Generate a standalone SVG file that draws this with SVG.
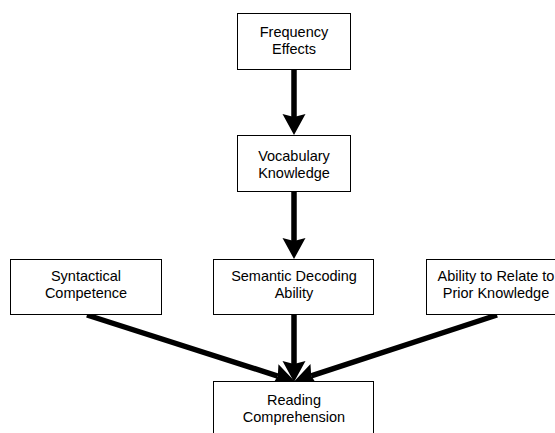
<svg xmlns="http://www.w3.org/2000/svg" width="555" height="433" viewBox="0 0 555 433">
  <style>
    .box { fill: #ffffff; stroke: #000000; stroke-width: 1; }
    .lbl { font-family: "Liberation Sans", Arial, sans-serif; font-size: 14.5px; fill: #000000; text-anchor: middle; }
    .edge { stroke: #000000; stroke-width: 5.5; fill: none; }
  </style>
  <defs>
    <marker id="arrow" markerUnits="userSpaceOnUse" markerWidth="24" markerHeight="24" refX="3" refY="11.5" orient="auto">
      <path d="M0,0 L21,11.5 L0,23 L3,11.5 z" fill="#000000"/>
    </marker>
  </defs>
  <rect width="555" height="433" fill="#ffffff"/>
  <g id="connectors">
    <line class="edge" x1="294" y1="69" x2="294" y2="117" marker-end="url(#arrow)"/>
    <line class="edge" x1="294" y1="192" x2="294" y2="241" marker-end="url(#arrow)"/>
    <line class="edge" x1="294" y1="315" x2="294" y2="364" marker-end="url(#arrow)"/>
    <line class="edge" x1="87" y1="315" x2="277.8" y2="376.1" marker-end="url(#arrow)"/>
    <line class="edge" x1="497" y1="315" x2="311.2" y2="375.8" marker-end="url(#arrow)"/>
  </g>
  <g id="frequency">
    <rect class="box" x="237.5" y="13.5" width="113" height="56"/>
    <text class="lbl" x="294" y="37">Frequency</text>
    <text class="lbl" x="294" y="54">Effects</text>
  </g>
  <g id="vocabulary">
    <rect class="box" x="237.5" y="135.5" width="113" height="56"/>
    <text class="lbl" x="294" y="161">Vocabulary</text>
    <text class="lbl" x="294" y="178">Knowledge</text>
  </g>
  <g id="syntactical">
    <rect class="box" x="10.5" y="259.5" width="151" height="55"/>
    <text class="lbl" x="86" y="281">Syntactical</text>
    <text class="lbl" x="86" y="298">Competence</text>
  </g>
  <g id="semantic">
    <rect class="box" x="213.5" y="259.5" width="160" height="55"/>
    <text class="lbl" x="294" y="281">Semantic Decoding</text>
    <text class="lbl" x="294" y="298">Ability</text>
  </g>
  <g id="ability">
    <rect class="box" x="426.5" y="259.5" width="140" height="55"/>
    <text class="lbl" x="496" y="281">Ability to Relate to</text>
    <text class="lbl" x="496" y="298">Prior Knowledge</text>
  </g>
  <g id="reading">
    <rect class="box" x="213.5" y="381.5" width="160" height="60"/>
    <text class="lbl" x="294" y="405">Reading</text>
    <text class="lbl" x="294" y="422">Comprehension</text>
  </g>
</svg>
